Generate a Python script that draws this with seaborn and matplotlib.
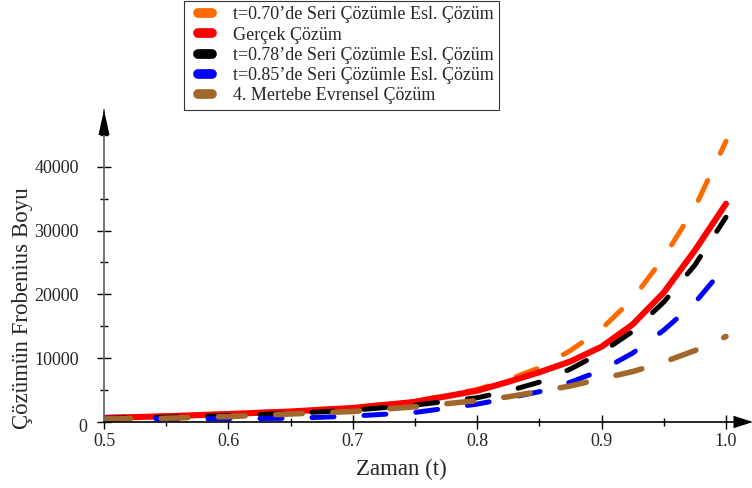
import numpy as np
import pandas as pd
import matplotlib
matplotlib.use("Agg")
import matplotlib.pyplot as plt
import matplotlib.transforms as mtransforms
from matplotlib.lines import Line2D
from matplotlib.legend_handler import HandlerLine2D
from matplotlib.ticker import MultipleLocator, FixedLocator
import seaborn as sns

# Time grid (t) shared by all curves
t = [0.50, 0.55, 0.60, 0.65, 0.70, 0.75, 0.80,
     0.825, 0.85, 0.875, 0.90, 0.925, 0.95, 0.975, 1.00]

# Frobenius norm of the solution for each method
seri_070 = [700, 950, 1300, 1700, 2250, 3250, 5100,
            6650, 8500, 11200, 14600, 19300, 25800, 33600, 44000]
gercek = [650, 900, 1250, 1650, 2200, 3150, 4900,
          6300, 7800, 9500, 11800, 15300, 20300, 26900, 34200]
seri_078 = [550, 750, 1000, 1350, 1850, 2650, 3800,
            4850, 6250, 8300, 10900, 14200, 18800, 24600, 32100]
seri_085 = [600, 480, 520, 580, 920, 1500, 2800,
            3750, 4750, 6250, 8100, 10800, 14400, 18700, 24500]
evrensel4 = [470, 590, 850, 1250, 1650, 2380, 3350,
             3950, 4800, 5650, 6800, 7900, 9400, 11200, 13400]

labels = ["t=0.70\u2019de Seri Çözümle Esl. Çözüm",
          "Gerçek Çözüm",
          "t=0.78\u2019de Seri Çözümle Esl. Çözüm",
          "t=0.85\u2019de Seri Çözümle Esl. Çözüm",
          "4. Mertebe Evrensel Çözüm"]
colors = ["#FF6A00", "#FF0000", "#000000", "#0000FF", "#A2682B"]

x_ticks = [0.5, 0.6, 0.7, 0.8, 0.9, 1.0]
x_ticklabels = ["0.5", "0.6", "0.7", "0.8", "0.9", "1.0"]
y_ticks = [0, 10000, 20000, 30000, 40000]
y_ticklabels = ["0", "10000", "20000", "30000", "40000"]

series = [seri_070, gercek, seri_078, seri_085, evrensel4]
df = pd.concat(
    [pd.DataFrame({"t": t, "norm": vals, "yontem": lab})
     for vals, lab in zip(series, labels)],
    ignore_index=True)

sns.set_style("white")
plt.rcParams["font.family"] = ["Liberation Serif", "DejaVu Serif"]

fig = plt.figure(figsize=(7.52, 4.88), dpi=100)
ax = fig.add_axes([104 / 752, 66 / 488, 646 / 752, 312 / 488])

styles = {
    labels[0]: dict(lw=3.6, dashes=(4.4, 6.0)),
    labels[1]: dict(lw=4.4, dashes=None),
    labels[2]: dict(lw=3.6, dashes=(4.4, 6.0)),
    labels[3]: dict(lw=3.6, dashes=(4.4, 6.0)),
    labels[4]: dict(lw=4.0, dashes=(4.8, 5.5)),
}
for lab, col in zip(labels, colors):
    sub = df[df["yontem"] == lab]
    st = styles[lab]
    sns.lineplot(data=sub, x="t", y="norm", ax=ax, color=col,
                 linewidth=st["lw"], legend=False, sort=False)
    line = ax.lines[-1]
    line.set_solid_capstyle("round")
    line.set_solid_joinstyle("round")
    if st["dashes"] is not None:
        line.set_dashes(st["dashes"])
        line.set_dash_capstyle("round")

ax.set_xlim(0.5, 1.0193)
ax.set_ylim(0, 48900)

ax.xaxis.set_major_locator(FixedLocator(x_ticks))
ax.set_xticklabels(x_ticklabels)
ax.xaxis.set_minor_locator(MultipleLocator(0.05))
ax.yaxis.set_major_locator(FixedLocator(y_ticks))
ax.set_yticklabels(y_ticklabels)
ax.yaxis.set_minor_locator(MultipleLocator(5000))

ax.tick_params(axis="both", which="both", bottom=True, left=True)
ax.tick_params(axis="both", which="major", direction="inout", length=10,
               width=1.0, color="black", labelsize=13)
ax.tick_params(axis="both", which="minor", direction="inout", length=6,
               width=1.0, color="black")
ax.tick_params(axis="x", which="major", pad=3)
ax.tick_params(axis="y", which="major", pad=13)

for s in ["top", "right"]:
    ax.spines[s].set_visible(False)
ax.spines["left"].set_color("#666666")
ax.spines["left"].set_linewidth(1.3)
ax.spines["bottom"].set_color("black")
ax.spines["bottom"].set_linewidth(1.2)

# Arrow heads at the ends of both axes
ax.annotate("", xy=(1.0045, 0.0), xytext=(0.97, 0.0), xycoords="axes fraction",
            arrowprops=dict(arrowstyle="-|>,head_length=1.4,head_width=0.45",
                            color="black", lw=0, shrinkA=0, shrinkB=0),
            annotation_clip=False)
ax.annotate("", xy=(0.0, 1.0), xytext=(0.0, 0.95), xycoords="axes fraction",
            arrowprops=dict(arrowstyle="-|>,head_length=1.8,head_width=0.4",
                            color="black", lw=0, shrinkA=0, shrinkB=0),
            annotation_clip=False)

ax.set_xlabel("Zaman (t)", fontsize=16.5)
ax.set_ylabel("Çözümün Frobenius Boyu", fontsize=16.5)
ax.xaxis.set_label_coords(0.461, -0.118)
ax.yaxis.set_label_coords(-0.11, 0.365)

# The zero label sits a little right of and below the others
for lbl in ax.get_yticklabels():
    if lbl.get_text() == "0":
        lbl.set_transform(lbl.get_transform() +
                          mtransforms.ScaledTranslation(8 / 100, -3 / 100,
                                                        fig.dpi_scale_trans))

handles = [Line2D([0], [0], color=c, lw=7, solid_capstyle="round")
           for c in colors]
leg = fig.legend(handles, labels, loc="upper left",
                 bbox_to_anchor=(184 / 752, 1 - 1 / 488),
                 frameon=True, fancybox=False, fontsize=13,
                 numpoints=2,
                 handler_map={Line2D: HandlerLine2D(marker_pad=0.47)},
                 handlelength=1.73, handletextpad=0.69,
                 labelspacing=0.18, borderpad=0.3, borderaxespad=0)
leg.get_frame().set_edgecolor("black")
leg.get_frame().set_linewidth(0.8)

fig.savefig("out.png", dpi=100)
